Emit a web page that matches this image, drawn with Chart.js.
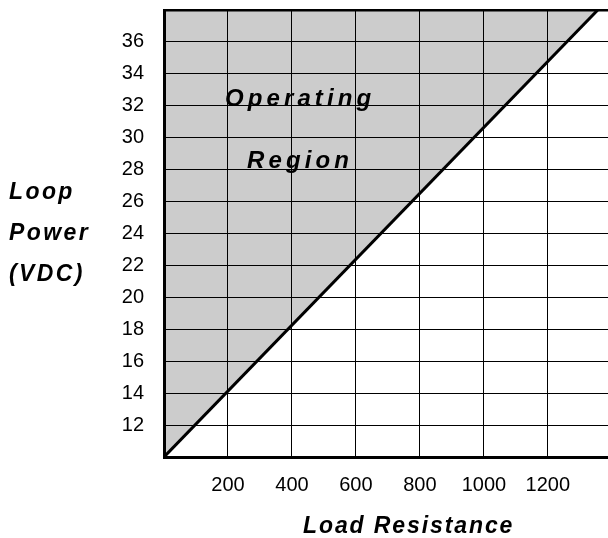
<!DOCTYPE html>
<html>
<head>
<meta charset="utf-8">
<script src="https://cdn.jsdelivr.net/npm/chart.js@4/dist/chart.umd.min.js"></script>
<style>
  html, body { margin: 0; padding: 0; background: #fff; }
  #wrap { width: 608px; height: 538px; }
</style>
</head>
<body>
<div id="wrap"><canvas id="loopChart"></canvas></div>
<script>
// Load line data (resistance in ohms vs loop supply volts)
const loadResistance = [0, 1356];
const loopVoltage = [10, 38];

// Axis ticks
const xTicks = [0, 200, 400, 600, 800, 1000, 1200];
const yTicks = [10, 12, 14, 16, 18, 20, 22, 24, 26, 28, 30, 32, 34, 36, 38];

const xTitle = 'Load Resistance';
const yTitle = ['Loop', 'Power', '(VDC)'];
const regionLabel = ['Operating', 'Region'];

const FONT = '"Liberation Sans", Arial, sans-serif';

// Draw the axis titles and the region label ourselves (letter spaced, horizontal)
const labelsPlugin = {
    id: 'labels',
    afterDraw(chart) {
        const ctx = chart.ctx;
        ctx.save();
        ctx.fillStyle = '#000';
        ctx.textAlign = 'left';
        ctx.textBaseline = 'alphabetic';

        ctx.font = 'italic bold 24px ' + FONT;
        ctx.letterSpacing = '4.1px';
        ctx.fillText(regionLabel[0], 225, 106);
        ctx.fillText(regionLabel[1], 247, 168);

        ctx.font = 'italic bold 23px ' + FONT;
        ctx.letterSpacing = '2.4px';
        const yRows = [199, 240, 281];
        yTitle.forEach((t, i) => ctx.fillText(t, 9, yRows[i]));

        ctx.letterSpacing = '1.9px';
        ctx.fillText(xTitle, 303, 533);
        ctx.restore();
    }
};

const ctx = document.getElementById('loopChart').getContext('2d');
new Chart(ctx, {
    type: 'line',
    data: {
        datasets: [{
            data: loadResistance.map((r, i) => ({ x: r, y: loopVoltage[i] })),
            borderColor: '#000',
            borderWidth: 3,
            pointRadius: 0,
            fill: 'end',
            backgroundColor: '#cccccc'
        }]
    },
    options: {
        responsive: true,
        maintainAspectRatio: false,
        animation: false,
        layout: { padding: { top: 10, right: 0, left: 0, bottom: 0 } },
        plugins: {
            legend: { display: false },
            tooltip: { enabled: false }
        },
        scales: {
            x: {
                type: 'linear',
                min: 0,
                max: 1388,
                afterBuildTicks: scale => { scale.ticks = xTicks.map(v => ({ value: v })); },
                afterFit: scale => {
                    scale.height = 81;
                    scale.paddingLeft = 0;
                    scale.paddingRight = 0;
                },
                grid: { color: '#000', lineWidth: 1, drawTicks: false, z: 1 },
                border: { display: true, color: '#000', width: 3, z: 2 },
                ticks: {
                    color: '#000',
                    font: { family: FONT, size: 20 },
                    padding: 16,
                    maxRotation: 0,
                    callback: v => (v === 0 ? '' : v)
                }
            },
            y: {
                min: 10,
                max: 38,
                afterBuildTicks: scale => { scale.ticks = yTicks.map(v => ({ value: v })); },
                afterFit: scale => {
                    scale.width = 164;
                    scale.paddingTop = 0;
                    scale.paddingBottom = 0;
                },
                grid: {
                    color: '#000',
                    lineWidth: c => (c.tick && c.tick.value === 38 ? 2.5 : 1),
                    drawTicks: false,
                    z: 1
                },
                border: { display: true, color: '#000', width: 3, z: 2 },
                ticks: {
                    color: '#000',
                    font: { family: FONT, size: 20 },
                    padding: 20,
                    callback: v => (v === 10 || v === 38 ? '' : v)
                }
            }
        }
    },
    plugins: [labelsPlugin]
});
</script>
</body>
</html>
